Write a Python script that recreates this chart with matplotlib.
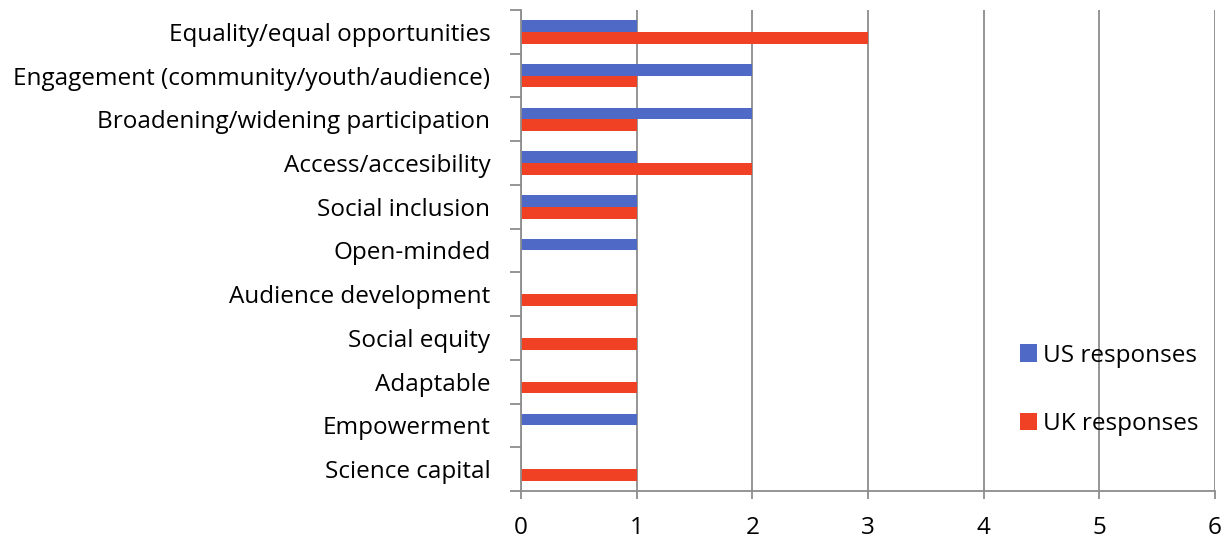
import numpy as np
import matplotlib.pyplot as plt

plt.rcParams['font.family'] = ['Open Sans', 'DejaVu Sans']

categories = [
    'Equality/equal opportunities',
    'Engagement (community/youth/audience)',
    'Broadening/widening participation',
    'Access/accesibility',
    'Social inclusion',
    'Open-minded',
    'Audience development',
    'Social equity',
    'Adaptable',
    'Empowerment',
    'Science capital',
]
us_responses = [1, 2, 2, 1, 1, 1, 0, 0, 0, 1, 0]
uk_responses = [3, 1, 1, 2, 1, 0, 1, 1, 1, 0, 1]
x_ticks = [0, 1, 2, 3, 4, 5, 6]

blue = '#4F69C6'
red = '#F04124'
fs = 17.5

fig = plt.figure(figsize=(12.29, 5.39), dpi=100)
ax = fig.add_axes([521 / 1229, 1 - 491 / 539, 694 / 1229, 481 / 539])

n = len(categories)
y = np.arange(n)
h = 0.27
ax.barh(y - h / 2, us_responses, height=h, color=blue, label='US responses')
ax.barh(y + h / 2, uk_responses, height=h, color=red, label='UK responses')

ax.set_ylim(n - 0.5, -0.5)
ax.set_xlim(0, 6)
ax.set_xticks(x_ticks)
ax.set_yticks(y)
ax.set_yticklabels(categories)
ax.set_yticks(np.arange(n + 1) - 0.5, minor=True)

ax.grid(axis='x', color='#8c8c8c', linewidth=1.3)
ax.set_axisbelow(True)
for s in ['top', 'right']:
    ax.spines[s].set_visible(False)
for s in ['left', 'bottom']:
    ax.spines[s].set_color('#8c8c8c')
    ax.spines[s].set_linewidth(1.3)

ax.tick_params(axis='y', which='major', length=0, pad=22, labelsize=fs)
ax.tick_params(axis='y', which='minor', length=8, width=1.3, color='#8c8c8c')
ax.tick_params(axis='x', length=6, width=1.3, color='#8c8c8c', labelsize=fs, pad=12)

ax.legend(loc='center left', bbox_to_anchor=(0.687, 0.21), frameon=False,
          fontsize=fs, handlelength=0.7, handleheight=0.7, handletextpad=0.25,
          labelspacing=1.85)

fig.savefig('out.png', dpi=100)
